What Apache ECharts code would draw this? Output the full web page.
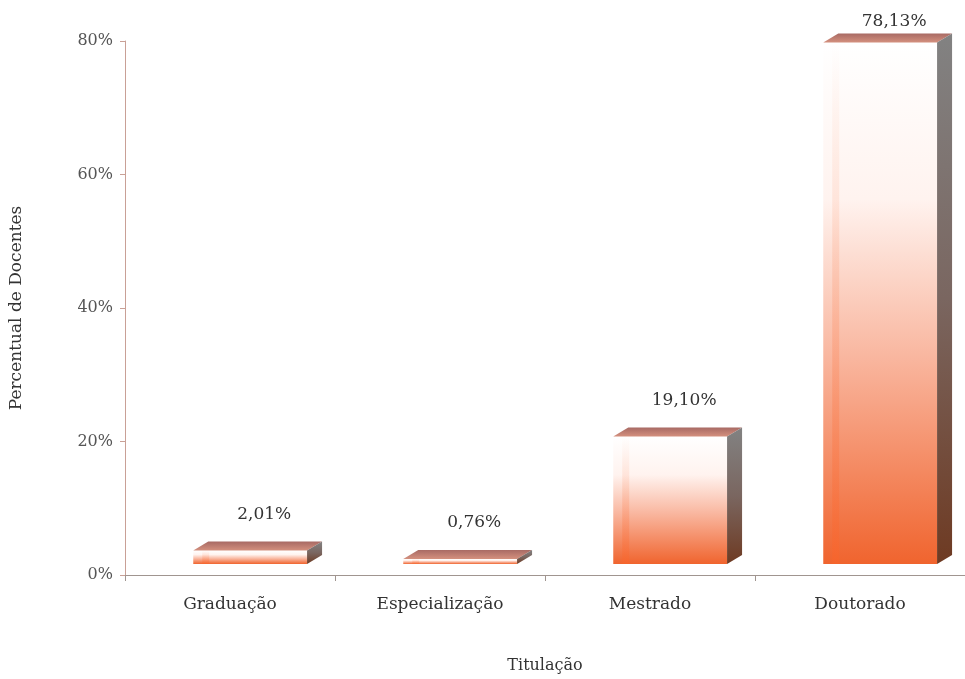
<!DOCTYPE html>
<html>
<head>
<meta charset="utf-8">
<script src="https://cdn.jsdelivr.net/npm/echarts@6/dist/echarts.min.js"></script>
<style>html,body{margin:0;padding:0;background:#fff}#c{width:965px;height:679px}</style>
</head>
<body>
<div id="c"></div>
<script>
const categories = ['Graduação', 'Especialização', 'Mestrado', 'Doutorado'];
const values = [2.01, 0.76, 19.10, 78.13];
const yTicks = [0, 20, 40, 60, 80];

const FONT = '"DejaVu Serif", "Liberation Serif", serif';
const chart = echarts.init(document.getElementById('c'), null, {renderer: 'canvas'});

function fmt(v) { return v.toFixed(2).replace('.', ',') + '%'; }

const option = {
  backgroundColor: '#fff',
  animation: false,
  grid: {left: 125, top: 41, width: 848, height: 542, containLabel: false},
  xAxis: {
    type: 'category',
    data: categories,
    name: 'Titulação',
    nameLocation: 'middle',
    nameGap: 83,
    nameTextStyle: {fontFamily: FONT, fontSize: 16, color: '#333'},
    axisLine: {lineStyle: {color: '#a09590', width: 1}},
    axisTick: {show: true, alignWithLabel: false, length: 6, lineStyle: {color: '#a09590'}},
    axisLabel: {fontFamily: FONT, fontSize: 17, color: '#333', margin: 21}
  },
  yAxis: {
    type: 'value',
    min: yTicks[0],
    max: yTicks[yTicks.length - 1],
    interval: 20,
    name: 'Percentual de Docentes',
    nameLocation: 'middle',
    nameGap: 100,
    nameRotate: 90,
    nameTextStyle: {fontFamily: FONT, fontSize: 17, color: '#333'},
    axisLine: {show: true, lineStyle: {color: '#c9a096', width: 1}},
    axisTick: {show: true, length: 5, lineStyle: {color: '#c9a096'}},
    splitLine: {show: false},
    axisLabel: {fontFamily: FONT, fontSize: 16, color: '#555', margin: 12, formatter: v => v + '%'}
  },
  series: [{
    type: 'custom',
    data: values.map((v, i) => [i, v]),
    renderItem: function (params, api) {
      const idx = api.value(0);
      const val = api.value(1);
      const base = api.coord([idx, 0]);
      const top = api.coord([idx, val]);
      const bw = api.size([1, 0])[0];
      const off = 11;
      const left = base[0] - 0.175 * bw;
      const w = 0.542 * bw;
      const yb = base[1] - off;
      const yt = top[1] - off;
      const dx = 15, dy = 9;
      const h = Math.max(yb - yt, 1);
      const labelY = Math.max(yt - dy - 27, 22);
      return {
        type: 'group',
        children: [
          {
            type: 'rect',
            shape: {x: left, y: yt, width: w, height: h},
            style: {
              fill: new echarts.graphic.LinearGradient(0, 0, 0, 1, [
                {offset: 0, color: '#ffffff'},
                {offset: 0.3, color: '#fff3ef'},
                {offset: 0.6, color: '#f9b7a0'},
                {offset: 1, color: '#f0642e'}
              ])
            }
          },
          {
            type: 'rect',
            shape: {x: left + 9, y: yt, width: 7, height: h},
            style: {
              fill: new echarts.graphic.LinearGradient(0, 0, 0, 1, [
                {offset: 0, color: 'rgba(255,110,50,0)'},
                {offset: 1, color: 'rgba(255,100,40,0.35)'}
              ])
            }
          },
          {
            type: 'polygon',
            shape: {points: [[left, yt], [left + dx, yt - dy], [left + w + dx, yt - dy], [left + w, yt]]},
            style: {
              fill: new echarts.graphic.LinearGradient(0, 0, 0, 1, [
                {offset: 0, color: '#a86a64'},
                {offset: 1, color: '#d4907e'}
              ])
            }
          },
          {
            type: 'polygon',
            shape: {points: [[left + w, yt], [left + w + dx, yt - dy], [left + w + dx, yb - dy], [left + w, yb]]},
            style: {
              fill: new echarts.graphic.LinearGradient(0, 0, 0, 1, [
                {offset: 0, color: '#828282'},
                {offset: 0.5, color: '#7a6660'},
                {offset: 1, color: '#6e3a22'}
              ])
            }
          },
          {
            type: 'text',
            style: {
              text: fmt(val),
              x: left + w / 2 + 14,
              y: labelY,
              align: 'center',
              verticalAlign: 'middle',
              font: '17px ' + FONT,
              fill: '#333'
            }
          }
        ]
      };
    }
  }]
};
chart.setOption(option);
</script>
</body>
</html>
